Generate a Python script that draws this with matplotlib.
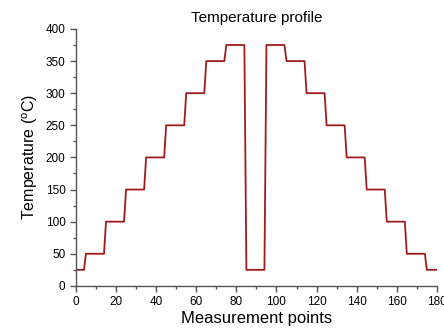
import numpy as np
import matplotlib
matplotlib.use('Agg')
import matplotlib.pyplot as plt
from matplotlib.ticker import MultipleLocator

plt.rcParams['font.family'] = ['Liberation Sans', 'DejaVu Sans']
plt.rcParams['mathtext.fontset'] = 'custom'
plt.rcParams['mathtext.rm'] = 'Liberation Sans'

# step levels (deg C) and how many measurement points each level lasts
levels = [25, 50, 100, 150, 200, 250, 300, 350, 375, 25,
          375, 350, 300, 250, 200, 150, 100, 50, 25]
counts = [5, 10, 10, 10, 10, 10, 10, 10, 10, 10,
          10, 10, 10, 10, 10, 10, 10, 10, 6]

temps = np.repeat(levels, counts)
points = np.arange(len(temps))

fig = plt.figure(figsize=(4.44, 3.29), dpi=100)
ax = fig.add_axes([0.171, 0.131, 0.813, 0.781])

ax.plot(points, temps, color='#a01c1c', lw=1.3)

ax.set_xlim(0, 180)
ax.set_ylim(0, 400)
ax.xaxis.set_major_locator(MultipleLocator(20))
ax.xaxis.set_minor_locator(MultipleLocator(10))
ax.yaxis.set_major_locator(MultipleLocator(50))
ax.yaxis.set_minor_locator(MultipleLocator(25))

for side in ['top', 'right']:
    ax.spines[side].set_visible(False)
for side in ['left', 'bottom']:
    ax.spines[side].set_color('#555555')
    ax.spines[side].set_linewidth(1.0)

ax.tick_params(which='major', direction='out', length=4, width=1, color='#555555', labelsize=8.5)
ax.tick_params(which='minor', direction='out', length=2.5, width=1, color='#555555')

ax.set_title('Temperature profile', fontsize=11, pad=5)
ax.set_xlabel('Measurement points', fontsize=12, labelpad=2)
ax.set_ylabel('Temperature ($^\\mathrm{o}$C)', fontsize=11.5, labelpad=4)

fig.savefig('out.png', dpi=100)
